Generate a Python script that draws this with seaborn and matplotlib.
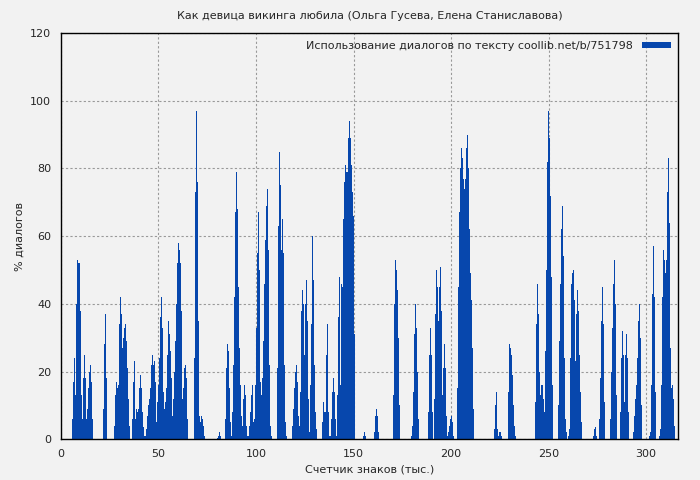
import numpy as np
import matplotlib
matplotlib.use("Agg")
import matplotlib.pyplot as plt
import seaborn as sns

# segments: (start, thousand chars) -> dialog share per step
seg_starts = [5.6, 21.5, 27.2, 36.4, 68.2, 80.0, 84.1, 110.8, 118.5, 133.8, 154.9, 160.5,
              170.3, 179.5, 188.2, 203.1, 222.0, 229.2, 243.1, 254.9, 260.0, 272.8, 275.9,
              281.5, 286.7, 293.3, 301.5, 306.7]
seg_values = [
    [6, 17, 24, 13, 40, 53, 52, 52, 38, 13, 6, 18, 25, 18, 6, 9, 15, 20, 22, 17, 6],
    [9, 28, 37, 18],
    [4, 13, 17, 15, 16, 34, 42, 37, 27, 30, 33, 34, 29, 21, 12, 4],
    [6, 17, 23, 6, 9, 8, 9, 15, 19, 15, 8, 3.5, 1, 1, 3, 7, 10, 12, 15, 22, 25, 22, 23, 17, 5, 11,
     16, 24, 36, 42, 33, 14, 9, 11, 15, 25, 35, 31, 26, 18, 7, 12, 20, 29, 40, 52, 58, 56, 52, 38,
     12, 15, 21, 22, 18, 6],
    [24, 73, 97, 76, 35, 7, 5, 7, 6, 4, 1],
    [0.5, 1, 2, 1],
    [6, 21, 28, 26, 15, 5, 1, 8, 22, 42, 67, 79, 68, 45, 27, 16, 7, 4, 12, 16, 13, 4, 1, 1, 4, 8,
     13, 16, 5, 6, 16, 33, 55, 67, 50, 17, 13, 18, 29, 46, 59, 69, 74, 56, 22, 4, 1],
    [21, 63, 85, 75, 56, 65, 55, 22, 5, 1],
    [4, 9, 15, 20, 22, 17, 7, 4, 14, 38, 44, 40, 25, 40, 47, 35, 12, 2, 16, 34, 60, 47, 22, 8, 3],
    [5, 11, 8, 8, 25, 34, 8, 1, 1, 6, 14, 18, 14, 6, 1, 13, 36, 48, 16, 46, 45, 65, 76, 81, 79, 79,
     89, 94, 89, 81, 73, 66, 31],
    [1, 2, 1],
    [2, 7, 9, 7, 2],
    [13, 40, 53, 50, 44, 30, 10],
    [1, 4, 14, 31, 40, 33, 20, 6],
    [8, 25, 33, 25, 8, 0, 12, 37, 50, 45, 35, 45, 51, 38, 13, 21, 28, 21, 7, 1, 2, 4, 6, 7, 5, 1],
    [15, 45, 67, 80, 86, 83, 77, 74, 77, 86, 90, 80, 62, 49, 41, 27, 9],
    [3, 10, 14, 3, 1, 2, 2, 1],
    [14, 28, 27, 25, 19, 10, 4, 1],
    [11, 34, 46, 37, 20, 13, 16, 16, 12, 8, 26, 50, 82, 97, 89, 72, 48, 16],
    [10, 29, 46, 62, 69, 54, 24, 6, 2],
    [1, 3, 24, 46, 49, 50, 41, 23, 37, 44, 38, 25, 14, 5],
    [1, 3, 3.5, 1],
    [6, 18, 35, 45, 34, 11],
    [6, 20, 33, 46, 53, 40, 13],
    [8, 24, 32, 25, 11, 25, 31, 24, 8],
    [2, 7, 12, 16, 24, 35, 40, 30, 10],
    [1, 2, 16, 43, 57, 42, 14],
    [1, 3, 16, 42, 56, 53, 49, 53, 73, 83, 64, 27, 15, 16, 12, 4],
]
step = 0.513

xs, ys = [], []
for s, vals in zip(seg_starts, seg_values):
    for i, v in enumerate(vals):
        xs.append(s + i * step)
        ys.append(v)

sns.set_theme(style="whitegrid")
plt.rcParams.update({'font.family': 'DejaVu Sans', 'font.size': 8})

bg = '#f2f2f2'
blue = '#0747ad'
fig, ax = plt.subplots(figsize=(7, 4.8), dpi=100)
fig.patch.set_facecolor(bg)
ax.set_facecolor(bg)
ax.bar(xs, ys, width=step, align='edge', color=blue, linewidth=0,
       label='Использование диалогов по тексту coollib.net/b/751798')

ax.set_xlim(0, 316.5)
ax.set_ylim(0, 120)
ax.set_xticks([0, 50, 100, 150, 200, 250, 300])
ax.set_yticks(range(0, 121, 20))
ax.grid(True, color='#999999', linestyle=(0, (2, 2)), linewidth=0.8)
ax.set_axisbelow(True)
for sp in ax.spines.values():
    sp.set_color('black')
    sp.set_linewidth(1)
ax.tick_params(axis='both', direction='out', length=4, color='black', labelsize=8, pad=3)

ax.set_title('Как девица викинга любила (Ольга Гусева, Елена Станиславова)', fontsize=8, pad=10)
ax.set_xlabel('Счетчик знаков (тыс.)', fontsize=8)
ax.set_ylabel('% диалогов', fontsize=8)
leg = ax.legend(loc='upper right', frameon=False, fontsize=8, handlelength=2.6,
                handleheight=0.4, markerfirst=False, borderaxespad=0.3)

plt.subplots_adjust(left=0.087, right=0.969, top=0.931, bottom=0.085)
plt.savefig('out.png', dpi=100, facecolor=bg)
